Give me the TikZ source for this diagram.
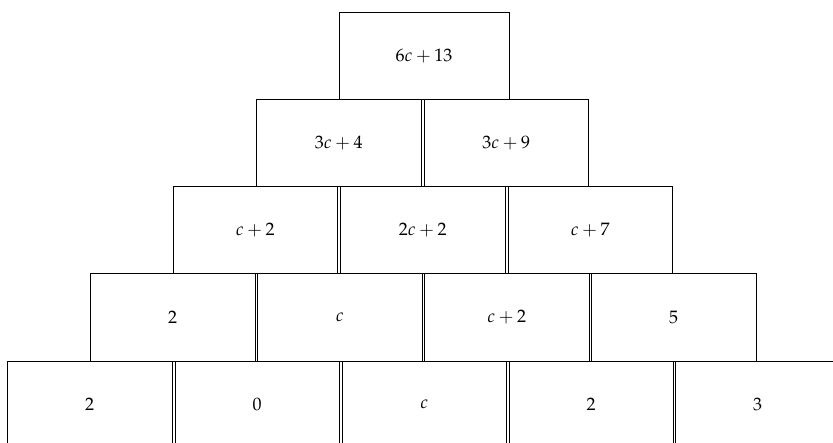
\documentclass[tikz,border=0pt]{standalone}
\usepackage{amsmath}
\usepackage{mathpazo}
\usepackage{tikz}

\tikzset{
  brick/.style={draw, line width=0.9pt, minimum width=164.5pt, minimum height=87.2pt,
    anchor=north west, inner sep=0pt, font=\fontsize{18}{22}\selectfont}
}

\begin{document}
\begin{tikzpicture}[x=1pt, y=-1pt]
  \useasboundingbox (0,0) rectangle (833,442);
  \clip (0,0) rectangle (833,442);

  % Top brick
  \node[brick, minimum width=170pt] (top) at (338.5,11.7) {$6c+13$};

  % Second row
  \node[brick] (b1) at (256,98.9) {$3c+4$};
  \node[brick] (b2) at (423.5,98.9) {$3c+9$};

  % Third row
  \node[brick] (c1) at (172.5,186.1) {$c+2$};
  \node[brick] (c2) at (340,186.1) {$2c+2$};
  \node[brick] (c3) at (507.5,186.1) {$c+7$};

  % Fourth row
  \node[brick] (d1) at (90,273.3) {$2$};
  \node[brick] (d2) at (257,273.3) {$c$};
  \node[brick] (d3) at (424,273.3) {$c+2$};
  \node[brick] (d4) at (591,273.3) {$5$};

  % Bottom row
  \node[brick] (e1) at (7,360.5) {$2$};
  \node[brick] (e2) at (174.5,360.5) {$0$};
  \node[brick] (e3) at (341.5,360.5) {$c$};
  \node[brick] (e4) at (508.5,360.5) {$2$};
  \node[brick] (e5) at (675,360.5) {$3$};
\end{tikzpicture}
\end{document}
